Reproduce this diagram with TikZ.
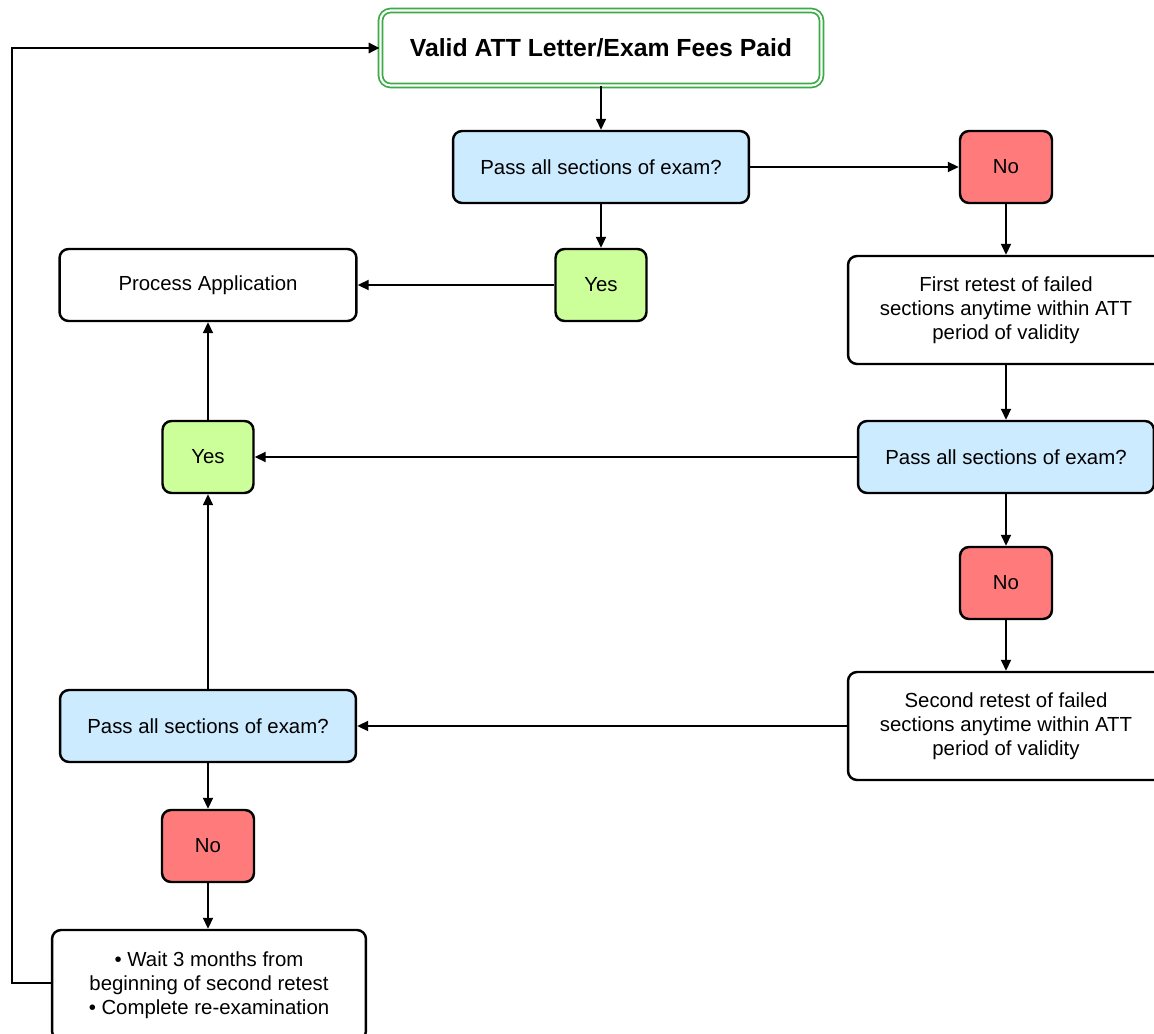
\documentclass[tikz,border=0pt]{standalone}
\usepackage{fontspec}
\setmainfont{Liberation Sans}
\usetikzlibrary{arrows.meta}
\definecolor{qblue}{RGB}{204,235,255}
\definecolor{nored}{RGB}{255,123,123}
\definecolor{ygreen}{RGB}{204,255,153}
\definecolor{tgreen}{RGB}{60,170,70}
\begin{document}
\begin{tikzpicture}[x=0.02cm,y=-0.02cm,
  box/.style={draw=black,line width=1.4pt,rounded corners=0.18cm,fill=white,
    align=center,inner sep=0pt,font=\fontsize{11.6pt}{13.6pt}\selectfont},
  qbox/.style={box,fill=qblue,minimum width=5.92cm,minimum height=1.44cm},
  nobox/.style={box,fill=nored,minimum width=1.84cm,minimum height=1.44cm},
  yesbox/.style={box,fill=ygreen,minimum width=1.82cm,minimum height=1.44cm},
  conn/.style={line width=1.1pt,-{Triangle[length=0.22cm,width=0.2cm]}},
  plain/.style={line width=1.1pt}]
\clip (0,0) rectangle (1154,1034);
\fill[white] (0,0) rectangle (1154,1034);

\node[draw=tgreen,double=white,double distance=1.2pt,line width=1pt,rounded corners=0.2cm,
  minimum width=8.82cm,minimum height=1.5cm,inner sep=0pt,
  font=\bfseries\fontsize{14.1pt}{16pt}\selectfont] (top) at (601,48) {Valid ATT Letter/Exam Fees Paid};

\node[qbox] (q1) at (601,167) {Pass all sections of exam?};
\node[nobox] (no1) at (1006,167) {No};
\node[yesbox] (yes1) at (601,285) {Yes};
\node[box,minimum width=5.94cm,minimum height=1.44cm] (proc) at (208,285) {Process Application};
\node[box,minimum width=6.32cm,minimum height=2.16cm] (fr) at (1006,310) {First retest of failed\\sections anytime within ATT\\period of validity};
\node[qbox] (q2) at (1006,457) {Pass all sections of exam?};
\node[yesbox] (yes2) at (208,457) {Yes};
\node[nobox] (no2) at (1006,583) {No};
\node[box,minimum width=6.32cm,minimum height=2.16cm] (sr) at (1006,726) {Second retest of failed\\sections anytime within ATT\\period of validity};
\node[qbox] (q3) at (208,726) {Pass all sections of exam?};
\node[nobox] (no3) at (208,846) {No};
\node[box,minimum width=6.28cm,minimum height=2.2cm] (wait) at (209,985) {\textbullet\ Wait 3 months from\\beginning of second retest\\\textbullet\ Complete re-examination};

\coordinate (lb) at (12,983);
\coordinate (lt) at (12,48);

\draw[conn] (top) -- (q1);
\draw[conn] (q1) -- (no1);
\draw[conn] (q1) -- (yes1);
\draw[conn] (yes1) -- (proc);
\draw[conn] (no1.south) -- (no1.south |- fr.north);
\draw[conn] (fr.south -| q2.north) -- (q2.north);
\draw[conn] (q2) -- (yes2);
\draw[conn] (yes2) -- (proc);
\draw[conn] (q2) -- (no2);
\draw[conn] (no2.south) -- (no2.south |- sr.north);
\draw[conn] (sr.west) -- (sr.west -| q3.east);
\draw[conn] (q3) -- (yes2);
\draw[conn] (q3) -- (no3);
\draw[conn] (no3) -- (no3 |- wait.north);
\draw[line width=1.6pt,-{Triangle[length=0.22cm,width=0.2cm]}] (wait.west |- lb) -- (lb) -- (lt) -- (top.west);
\end{tikzpicture}
\end{document}
